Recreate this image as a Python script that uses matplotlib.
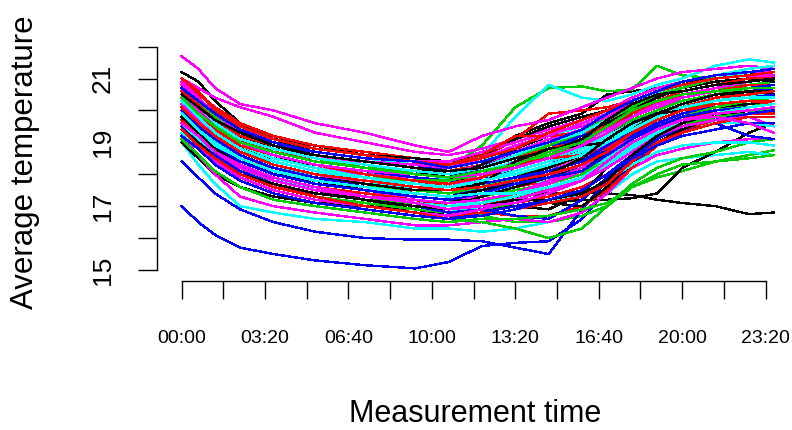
import matplotlib
matplotlib.use("Agg")
import matplotlib.pyplot as plt

plt.rcParams['font.family'] = ['Liberation Sans', 'DejaVu Sans']

# sample positions, in 10-minute steps from 00:00
t_idx = [0, 4, 8, 14, 22, 32, 44, 56, 64, 72, 80, 88, 96, 102, 108, 114, 120, 128, 136, 142]

black_lines = [
    [21.2, 20.9, 20.3, 19.6, 19.1, 18.9, 18.6, 18.4, 18.3, 18.6, 19.2, 19.6, 19.9, 20.5, 20.6, 20.7, 20.8, 21.1, 21.2, 21.1],
    [19.3, 18.9, 18.5, 18.1, 17.8, 17.5, 17.3, 17.1, 17.0, 17.2, 17.3, 17.4, 17.45, 17.4, 17.35, 17.2, 17.1, 17.0, 16.75, 16.8],
    [19.0, 18.5, 18.0, 17.6, 17.3, 17.1, 17.0, 16.9, 16.8, 16.9, 17.0, 17.1, 17.2, 17.2, 17.25, 17.4, 18.2, 18.7, 19.3, 19.6],
    [20.4, 20.0, 19.6, 19.1, 18.8, 18.6, 18.4, 18.2, 18.0, 18.0, 18.3, 18.6, 19.0, 19.4, 19.9, 20.2, 20.5, 20.7, 20.9, 21.0],
    [20.1, 19.7, 19.2, 18.8, 18.5, 18.3, 18.1, 18.0, 18.0, 18.1, 18.2, 18.5, 18.8, 19.2, 19.7, 20.0, 20.3, 20.5, 20.7, 20.8],
    [19.7, 19.2, 18.8, 18.3, 17.9, 17.6, 17.3, 17.1, 17.0, 17.3, 17.6, 17.9, 18.2, 18.6, 19.1, 19.5, 19.8, 20.1, 20.2, 20.3],
    [20.6, 20.2, 19.8, 19.3, 19.0, 18.8, 18.6, 18.5, 18.4, 18.6, 19.1, 19.5, 19.8, 20.0, 20.1, 20.3, 20.6, 20.8, 21.0, 21.1],
    [19.9, 19.4, 18.9, 18.4, 18.0, 17.8, 17.5, 17.3, 17.2, 17.2, 17.0, 16.9, 17.4, 18.2, 18.9, 19.4, 19.8, 20.1, 20.3, 20.4],
    [20.3, 19.9, 19.5, 19.0, 18.7, 18.4, 18.2, 18.0, 17.9, 17.7, 17.9, 18.2, 18.6, 19.0, 19.5, 19.9, 20.2, 20.4, 20.6, 20.6],
    [20.8, 20.3, 19.8, 19.2, 18.8, 18.5, 18.3, 18.1, 17.9, 18.3, 18.8, 19.2, 19.3, 19.6, 20.1, 20.4, 20.7, 20.9, 21.0, 20.9],
    [19.6, 19.1, 18.7, 18.2, 17.8, 17.5, 17.2, 16.9, 16.7, 16.9, 17.3, 17.1, 17.0, 17.6, 18.4, 19.0, 19.4, 19.8, 20.0, 20.1],
    [20.0, 19.5, 19.1, 18.6, 18.2, 17.9, 17.7, 17.5, 17.5, 17.7, 18.4, 18.8, 18.9, 19.0, 19.4, 19.9, 20.2, 20.5, 20.6, 20.5],
    [19.4, 19.0, 18.5, 18.0, 17.7, 17.4, 17.2, 17.0, 16.9, 17.0, 17.2, 17.2, 17.4, 17.8, 18.6, 19.2, 19.6, 19.9, 20.1, 20.2],
    [20.5, 20.1, 19.7, 19.3, 18.9, 18.6, 18.4, 18.2, 18.1, 18.2, 18.5, 18.7, 19.1, 19.7, 20.2, 20.5, 20.6, 20.8, 20.9, 21.0],
    [19.8, 19.3, 18.8, 18.4, 18.1, 17.8, 17.6, 17.4, 17.3, 17.5, 17.7, 18.0, 18.5, 19.1, 19.6, 19.9, 20.0, 20.2, 20.3, 20.3],
]

red_lines = [
    [20.9, 20.5, 20.1, 19.6, 19.2, 18.9, 18.7, 18.5, 18.3, 18.5, 19.1, 19.9, 20.0, 20.1, 20.3, 20.6, 20.8, 21.0, 21.1, 21.2],
    [20.5, 20.0, 19.5, 19.0, 18.6, 18.3, 18.1, 17.9, 17.8, 17.9, 18.1, 18.4, 18.8, 19.3, 19.8, 20.1, 20.3, 20.5, 20.6, 20.7],
    [19.8, 19.3, 18.9, 18.4, 18.0, 17.7, 17.5, 17.3, 17.2, 17.4, 17.6, 17.8, 18.1, 18.6, 19.2, 19.6, 19.9, 20.1, 20.2, 20.3],
    [20.2, 19.8, 19.3, 18.8, 18.5, 18.2, 18.0, 17.8, 17.6, 17.8, 18.0, 18.3, 18.7, 19.1, 19.6, 19.9, 20.1, 20.3, 20.4, 20.5],
    [19.5, 19.0, 18.6, 18.1, 17.7, 17.3, 17.1, 16.9, 16.7, 16.9, 17.1, 17.3, 17.6, 18.0, 18.6, 19.1, 19.5, 19.7, 19.9, 20.0],
    [20.7, 20.3, 19.8, 19.3, 18.9, 18.6, 18.4, 18.2, 18.1, 18.3, 18.7, 19.0, 19.4, 19.8, 20.2, 20.5, 20.7, 20.9, 21.0, 21.0],
    [19.9, 19.5, 19.0, 18.5, 18.2, 17.9, 17.7, 17.4, 17.3, 17.4, 17.4, 17.5, 17.8, 18.5, 19.1, 19.6, 19.9, 20.2, 20.3, 20.2],
    [20.4, 20.0, 19.6, 19.1, 18.7, 18.5, 18.3, 18.1, 17.9, 18.2, 18.5, 18.8, 19.1, 19.5, 19.9, 20.2, 20.5, 20.6, 20.8, 20.8],
    [19.3, 18.9, 18.4, 17.9, 17.5, 17.2, 17.0, 16.8, 16.7, 16.8, 16.7, 16.7, 17.0, 17.5, 18.2, 18.9, 19.4, 19.7, 19.9, 19.9],
    [20.6, 20.2, 19.7, 19.2, 18.9, 18.6, 18.4, 18.3, 18.3, 18.6, 19.2, 19.2, 19.3, 19.5, 19.9, 20.3, 20.6, 20.8, 21.0, 21.1],
    [19.7, 19.2, 18.8, 18.3, 17.9, 17.6, 17.4, 17.2, 17.0, 17.1, 17.2, 17.6, 17.9, 18.3, 18.9, 19.4, 19.7, 20.0, 20.1, 20.2],
    [20.3, 19.8, 19.4, 18.9, 18.6, 18.3, 18.0, 17.8, 17.7, 17.9, 18.3, 18.5, 18.6, 18.8, 19.3, 19.8, 20.1, 20.4, 20.5, 20.6],
    [19.4, 18.9, 18.5, 18.0, 17.6, 17.3, 17.0, 16.8, 16.6, 16.7, 16.9, 17.1, 17.3, 17.7, 18.4, 19.0, 19.3, 19.6, 19.8, 19.8],
    [21.0, 20.6, 20.0, 19.5, 19.1, 18.8, 18.6, 18.4, 18.3, 18.5, 18.8, 19.3, 19.7, 20.0, 20.3, 20.6, 20.8, 21.0, 21.1, 21.2],
    [20.1, 19.6, 19.2, 18.7, 18.3, 18.0, 17.8, 17.6, 17.5, 17.6, 17.8, 18.0, 18.3, 18.7, 19.3, 19.7, 20.0, 20.2, 20.3, 20.3],
]

green_lines = [
    [20.3, 19.9, 19.5, 19.1, 18.8, 18.5, 18.3, 18.0, 18.2, 18.9, 20.1, 20.7, 20.75, 20.6, 20.65, 21.4, 21.1, 21.0, 21.1, 21.0],
    [19.6, 19.2, 18.7, 18.2, 17.8, 17.5, 17.2, 17.0, 16.8, 16.7, 16.5, 16.5, 16.7, 17.0, 17.6, 17.9, 18.1, 18.4, 18.6, 18.75],
    [20.1, 19.7, 19.2, 18.7, 18.4, 18.1, 17.9, 17.7, 17.6, 17.8, 18.0, 18.2, 18.6, 19.0, 19.5, 19.9, 20.2, 20.4, 20.5, 20.6],
    [19.7, 19.3, 18.8, 18.3, 17.9, 17.6, 17.4, 17.2, 17.1, 17.3, 17.5, 17.7, 18.1, 18.5, 19.1, 19.5, 19.8, 20.0, 20.2, 20.2],
    [20.5, 20.1, 19.6, 19.1, 18.8, 18.5, 18.2, 18.1, 18.0, 18.2, 18.5, 18.9, 19.2, 19.6, 20.0, 20.3, 20.5, 20.7, 20.8, 20.9],
    [19.2, 18.8, 18.3, 17.8, 17.4, 17.1, 16.9, 16.7, 16.6, 16.5, 16.3, 16.0, 16.3, 17.0, 17.7, 18.2, 18.5, 18.7, 19.0, 19.1],
    [19.9, 19.4, 19.0, 18.5, 18.1, 17.8, 17.6, 17.5, 17.4, 17.6, 17.9, 18.2, 18.5, 18.9, 19.3, 19.7, 20.0, 20.3, 20.4, 20.5],
    [20.6, 20.2, 19.7, 19.2, 18.9, 18.6, 18.4, 18.3, 18.2, 18.4, 18.7, 19.0, 19.4, 19.8, 20.3, 20.6, 20.8, 21.0, 21.1, 21.1],
    [19.5, 19.1, 18.6, 18.1, 17.8, 17.5, 17.2, 17.1, 16.9, 17.0, 17.3, 17.6, 17.9, 18.3, 18.8, 19.3, 19.6, 19.8, 20.0, 20.0],
    [20.2, 19.8, 19.3, 18.8, 18.4, 18.1, 17.9, 17.8, 17.8, 18.0, 18.3, 18.6, 18.9, 19.3, 19.7, 20.0, 20.3, 20.5, 20.7, 20.8],
    [19.5, 19.0, 18.5, 18.0, 17.6, 17.3, 17.1, 16.9, 16.8, 16.9, 17.1, 17.4, 17.8, 18.3, 18.8, 19.2, 19.5, 19.8, 19.9, 20.0],
    [20.7, 20.3, 19.8, 19.3, 18.9, 18.6, 18.4, 18.2, 18.1, 18.2, 18.6, 18.9, 19.3, 19.7, 20.1, 20.5, 20.7, 21.0, 21.1, 21.1],
    [19.8, 19.3, 18.8, 18.3, 17.9, 17.6, 17.3, 17.1, 17.0, 17.1, 17.4, 17.7, 18.0, 18.4, 18.9, 19.4, 19.8, 20.1, 20.3, 20.4],
    [19.1, 18.6, 18.1, 17.6, 17.2, 17.0, 16.8, 16.6, 16.5, 16.6, 16.6, 16.7, 16.9, 17.1, 17.6, 18.0, 18.3, 18.4, 18.5, 18.6],
    [20.4, 19.9, 19.5, 19.0, 18.7, 18.4, 18.2, 18.0, 17.9, 18.1, 18.3, 18.7, 19.0, 19.5, 20.0, 20.3, 20.5, 20.6, 20.7, 20.7],
]

blue_lines = [
    [17.0, 16.5, 16.1, 15.7, 15.5, 15.3, 15.15, 15.05, 15.25, 15.75, 15.85, 15.9, 16.6, 17.5, 18.3, 18.9, 19.3, 19.7, 19.9, 20.0],
    [18.4, 17.9, 17.4, 16.9, 16.5, 16.2, 16.0, 15.95, 15.95, 15.9, 15.7, 15.5, 16.9, 17.8, 18.5, 19.0, 19.4, 19.8, 20.0, 20.1],
    [20.2, 19.8, 19.3, 18.8, 18.5, 18.2, 18.0, 17.8, 17.7, 17.9, 18.1, 18.4, 18.6, 19.0, 19.5, 19.9, 20.2, 20.4, 20.6, 20.7],
    [19.6, 19.2, 18.7, 18.2, 17.9, 17.6, 17.3, 17.1, 16.9, 17.1, 17.4, 17.6, 17.9, 18.4, 18.9, 19.3, 19.6, 19.8, 20.0, 20.1],
    [20.6, 20.2, 19.7, 19.3, 18.9, 18.7, 18.5, 18.3, 18.1, 18.3, 18.6, 18.9, 19.2, 19.6, 20.0, 20.3, 20.6, 20.8, 21.0, 21.1],
    [19.9, 19.5, 19.0, 18.6, 18.2, 17.9, 17.7, 17.5, 17.4, 17.5, 17.8, 18.1, 18.4, 18.8, 19.3, 19.6, 19.7, 19.6, 19.2, 19.1],
    [20.3, 19.9, 19.4, 18.9, 18.6, 18.3, 18.1, 17.9, 17.8, 17.8, 18.0, 18.3, 18.7, 19.1, 19.6, 20.0, 20.3, 20.5, 20.6, 20.7],
    [19.3, 18.9, 18.4, 17.9, 17.5, 17.2, 17.0, 16.8, 16.6, 16.8, 17.0, 17.2, 17.5, 18.0, 18.6, 19.1, 19.5, 19.8, 19.9, 20.0],
    [20.0, 19.6, 19.1, 18.7, 18.3, 18.0, 17.8, 17.6, 17.5, 17.7, 17.9, 18.1, 18.4, 18.8, 19.2, 19.6, 19.9, 20.1, 20.3, 20.4],
    [20.4, 19.9, 19.5, 19.0, 18.6, 18.3, 18.1, 18.0, 17.9, 18.2, 18.6, 18.9, 19.1, 19.4, 19.8, 20.1, 20.4, 20.6, 20.7, 20.8],
    [19.5, 19.1, 18.6, 18.1, 17.7, 17.4, 17.2, 17.0, 16.8, 16.9, 16.7, 16.6, 17.2, 17.9, 18.6, 19.1, 19.5, 19.7, 19.9, 20.0],
    [20.0, 19.5, 19.1, 18.6, 18.2, 17.9, 17.6, 17.4, 17.3, 17.5, 17.8, 18.1, 18.4, 18.9, 19.4, 19.8, 20.1, 20.3, 20.4, 20.5],
    [19.2, 18.8, 18.3, 17.8, 17.4, 17.1, 16.9, 16.7, 16.6, 16.7, 16.9, 17.2, 17.5, 18.0, 18.5, 18.9, 19.2, 19.4, 19.6, 19.6],
    [20.7, 20.3, 19.9, 19.4, 19.0, 18.7, 18.5, 18.4, 18.2, 18.4, 18.7, 19.0, 19.4, 19.9, 20.3, 20.6, 20.9, 21.1, 21.2, 21.3],
    [19.9, 19.4, 18.9, 18.4, 18.0, 17.7, 17.5, 17.3, 17.2, 17.4, 17.7, 17.9, 18.1, 18.6, 19.1, 19.5, 19.8, 20.0, 20.1, 20.2],
]

cyan_lines = [
    [19.6, 19.2, 18.8, 18.5, 18.2, 18.0, 17.9, 17.8, 17.9, 18.6, 19.8, 20.8, 20.4, 20.3, 20.5, 20.8, 21.0, 21.4, 21.6, 21.5],
    [19.0, 18.3, 17.7, 17.0, 16.8, 16.6, 16.5, 16.3, 16.3, 16.2, 16.3, 16.5, 16.8, 17.4, 18.0, 18.4, 18.5, 18.6, 18.7, 18.6],
    [20.4, 20.0, 19.5, 19.0, 18.7, 18.4, 18.2, 18.0, 17.9, 18.1, 18.4, 18.7, 19.0, 19.4, 19.9, 20.2, 20.5, 20.7, 20.9, 21.0],
    [19.8, 19.4, 18.9, 18.4, 18.1, 17.8, 17.5, 17.4, 17.3, 17.4, 17.6, 17.9, 18.2, 18.7, 19.2, 19.6, 19.9, 20.1, 20.3, 20.3],
    [20.1, 19.6, 19.2, 18.7, 18.3, 18.0, 17.8, 17.7, 17.6, 17.7, 17.7, 17.8, 18.3, 18.9, 19.4, 19.8, 20.1, 20.3, 20.5, 20.6],
    [19.4, 18.9, 18.5, 18.0, 17.6, 17.3, 17.1, 16.9, 16.8, 17.0, 17.2, 17.5, 17.8, 18.3, 18.8, 19.2, 19.5, 19.7, 19.9, 19.9],
    [20.7, 20.3, 19.8, 19.4, 19.0, 18.7, 18.5, 18.3, 18.2, 18.4, 18.8, 19.2, 19.5, 19.8, 20.1, 20.5, 20.8, 21.0, 21.2, 21.3],
    [19.7, 19.3, 18.8, 18.3, 17.9, 17.5, 17.3, 17.1, 17.0, 17.2, 17.3, 17.5, 17.9, 18.5, 19.0, 19.3, 19.5, 19.6, 19.6, 19.5],
    [20.2, 19.8, 19.3, 18.9, 18.5, 18.2, 17.9, 17.8, 17.7, 17.9, 18.2, 18.5, 18.8, 19.2, 19.6, 19.9, 20.2, 20.3, 20.5, 20.5],
    [20.0, 19.5, 19.0, 18.5, 18.1, 17.9, 17.7, 17.6, 17.6, 17.8, 18.1, 18.4, 18.7, 19.1, 19.5, 19.9, 20.2, 20.4, 20.5, 20.6],
    [19.3, 18.8, 18.3, 17.8, 17.4, 17.1, 16.9, 16.7, 16.6, 16.7, 16.9, 17.1, 17.4, 17.8, 18.3, 18.7, 18.9, 19.0, 19.0, 18.9],
    [20.5, 20.1, 19.6, 19.1, 18.8, 18.5, 18.3, 18.1, 18.0, 18.2, 18.6, 19.0, 19.3, 19.7, 20.2, 20.6, 20.9, 21.1, 21.3, 21.4],
    [19.6, 19.1, 18.7, 18.2, 17.8, 17.5, 17.3, 17.1, 17.0, 17.1, 17.3, 17.6, 17.9, 18.3, 18.8, 19.3, 19.7, 19.9, 20.0, 20.1],
    [20.3, 19.8, 19.3, 18.8, 18.4, 18.1, 17.9, 17.7, 17.6, 17.8, 18.0, 18.3, 18.6, 19.0, 19.4, 19.8, 20.1, 20.3, 20.4, 20.4],
    [19.9, 19.4, 18.9, 18.5, 18.1, 17.8, 17.6, 17.4, 17.3, 17.4, 17.4, 17.6, 17.9, 18.4, 18.9, 19.4, 19.7, 19.9, 20.1, 20.2],
]

magenta_lines = [
    [21.7, 21.3, 20.7, 20.2, 20.0, 19.6, 19.3, 18.9, 18.7, 19.2, 19.5, 19.7, 20.1, 20.4, 20.7, 21.0, 21.2, 21.3, 21.4, 21.3],
    [21.0, 20.7, 20.4, 20.1, 19.8, 19.3, 19.0, 18.7, 18.6, 18.8, 19.1, 19.4, 19.7, 20.0, 20.4, 20.7, 20.9, 21.1, 21.2, 21.2],
    [19.2, 18.6, 18.0, 17.3, 17.0, 16.8, 16.6, 16.4, 16.4, 16.5, 16.6, 16.5, 16.8, 17.4, 18.2, 18.6, 18.8, 19.0, 19.1, 19.1],
    [20.3, 19.9, 19.4, 18.9, 18.5, 18.2, 18.0, 17.9, 17.8, 17.9, 18.2, 18.6, 19.0, 19.4, 19.8, 20.1, 20.3, 20.5, 20.7, 20.8],
    [19.7, 19.3, 18.8, 18.3, 17.9, 17.6, 17.4, 17.3, 17.2, 17.3, 17.6, 17.9, 18.3, 18.7, 19.2, 19.6, 19.8, 20.0, 20.1, 20.2],
    [20.6, 20.1, 19.7, 19.2, 18.9, 18.6, 18.3, 18.1, 18.0, 18.3, 18.7, 19.1, 19.4, 19.7, 20.0, 20.2, 20.5, 20.7, 20.9, 21.0],
    [19.5, 19.0, 18.6, 18.1, 17.7, 17.4, 17.2, 17.0, 16.9, 17.1, 17.4, 17.8, 18.2, 18.8, 19.3, 19.6, 19.8, 19.9, 19.8, 19.5],
    [20.0, 19.6, 19.1, 18.7, 18.3, 18.0, 17.7, 17.6, 17.5, 17.6, 17.8, 18.1, 18.5, 19.0, 19.4, 19.8, 20.1, 20.3, 20.4, 20.4],
    [20.9, 20.4, 19.9, 19.4, 19.1, 18.8, 18.6, 18.4, 18.4, 18.7, 19.0, 19.3, 19.5, 19.8, 20.2, 20.6, 20.9, 21.1, 21.2, 21.2],
    [20.2, 19.7, 19.3, 18.8, 18.4, 18.1, 17.9, 17.7, 17.6, 17.9, 18.4, 18.7, 19.0, 19.4, 19.8, 20.2, 20.4, 20.6, 20.7, 20.7],
    [19.4, 18.9, 18.4, 17.9, 17.5, 17.2, 17.0, 16.8, 16.7, 16.9, 17.2, 17.5, 17.8, 18.2, 18.7, 19.2, 19.5, 19.7, 19.8, 19.8],
    [20.8, 20.4, 19.9, 19.3, 18.9, 18.6, 18.4, 18.3, 18.2, 18.5, 18.9, 19.2, 19.6, 19.9, 20.3, 20.6, 20.8, 21.0, 21.1, 21.1],
    [19.8, 19.3, 18.8, 18.3, 17.9, 17.6, 17.3, 17.2, 17.1, 17.2, 17.4, 17.7, 18.1, 18.6, 19.1, 19.5, 19.7, 19.8, 19.6, 19.3],
    [20.4, 20.0, 19.5, 19.0, 18.6, 18.3, 18.1, 18.0, 17.9, 18.0, 18.2, 18.5, 18.9, 19.3, 19.8, 20.1, 20.4, 20.6, 20.7, 20.7],
    [19.6, 19.2, 18.7, 18.2, 17.8, 17.5, 17.3, 17.1, 16.9, 17.0, 17.1, 17.4, 17.8, 18.4, 19.0, 19.4, 19.7, 19.9, 20.0, 20.1],
]

x_tick_pos = list(range(0, 141, 10))
x_tick_text = ["00:00", "", "03:20", "", "06:40", "", "10:00", "", "13:20", "", "16:40", "", "20:00", "", "23:20"]
y_tick_pos = [15, 16, 17, 18, 19, 20, 21, 22]
y_tick_text = ["15", "", "17", "", "19", "", "21", ""]

groups = [black_lines, red_lines, green_lines, blue_lines, cyan_lines, magenta_lines]
colors = ["#000000", "#FF0000", "#00CD00", "#0000FF", "#00FFFF", "#FF00FF"]

fig = plt.figure(figsize=(7.92, 4.30), dpi=100)
ax = fig.add_axes([157/792, 1-281/430, 635/792, 251/430])

# matplot-style: colours cycle line by line
for j in range(len(black_lines)):
    for grp, col in zip(groups, colors):
        ax.plot(t_idx, grp[j], color=col, lw=1.0, antialiased=False)

ax.set_xlim(-5.92, 146.35)
ax.set_ylim(14.655, 22.52)
ax.spines["top"].set_visible(False)
ax.spines["right"].set_visible(False)
ax.spines["left"].set_bounds(15, 22)
ax.spines["bottom"].set_bounds(0, 140)
ax.spines["left"].set_linewidth(1.0)
ax.spines["bottom"].set_linewidth(1.0)

ax.set_xticks(x_tick_pos)
ax.set_xticklabels(x_tick_text, fontsize=14)
ax.set_yticks(y_tick_pos)
ax.set_yticklabels(y_tick_text, fontsize=19, rotation=90, va="center")
ax.tick_params(axis="x", length=13, width=1.0, pad=22)
ax.tick_params(axis="y", length=13.5, width=1.0, pad=17)

fig.text(25/792, 1-162/430, "Average temperature", rotation=90, fontsize=22.5,
         ha="center", va="center")
fig.text(475/792, 1-414/430, "Measurement time", fontsize=22, ha="center", va="center")

fig.savefig("out.png", dpi=100)
